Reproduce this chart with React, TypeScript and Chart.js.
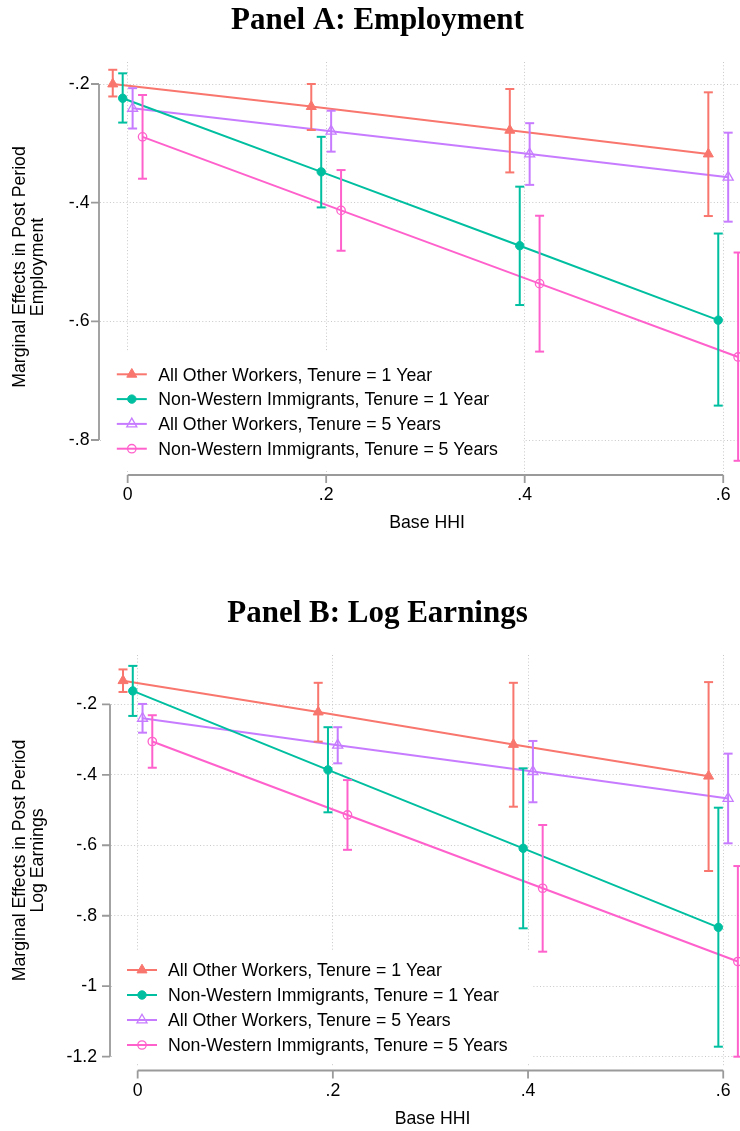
import React, { useEffect, useRef } from "react";
import { Chart, registerables } from "chart.js";

Chart.register(...registerables);

// ---- Series identity ----
const seriesLabels = [
  "All Other Workers, Tenure = 1 Year",
  "Non-Western Immigrants, Tenure = 1 Year",
  "All Other Workers, Tenure = 5 Years",
  "Non-Western Immigrants, Tenure = 5 Years",
];
const seriesColors = ["#F8766D", "#00BFA0", "#C77CFF", "#FF61CC"];

// ---- Base HHI positions (dodged per series) ----
const xAllOther1 = [-0.015, 0.185, 0.385, 0.585];
const xImmig1 = [-0.005, 0.195, 0.395, 0.595];
const xAllOther5 = [0.005, 0.205, 0.405, 0.605];
const xImmig5 = [0.015, 0.215, 0.415, 0.615];

// ---- Tick values ----
const xTicks = [0, 0.2, 0.4, 0.6];
const empTicks = [-0.8, -0.6, -0.4, -0.2];
const earnTicks = [-1.2, -1, -0.8, -0.6, -0.4, -0.2];

// ---- Panel A: Employment (estimate, lower CI, upper CI) ----
const empAllOther1 = [-0.2, -0.238, -0.278, -0.318];
const empAllOther1Lo = [-0.221, -0.2775, -0.349, -0.4225];
const empAllOther1Hi = [-0.176, -0.2, -0.2084, -0.214];

const empImmig1 = [-0.224, -0.348, -0.4725, -0.598];
const empImmig1Lo = [-0.265, -0.408, -0.5725, -0.742];
const empImmig1Hi = [-0.182, -0.289, -0.373, -0.452];

const empAllOther5 = [-0.241, -0.2795, -0.318, -0.357];
const empAllOther5Lo = [-0.275, -0.314, -0.37, -0.432];
const empAllOther5Hi = [-0.207, -0.245, -0.266, -0.282];

const empImmig5 = [-0.289, -0.413, -0.5365, -0.66];
const empImmig5Lo = [-0.3596, -0.481, -0.651, -0.835];
const empImmig5Hi = [-0.2185, -0.345, -0.422, -0.484];

// ---- Panel B: Log Earnings (estimate, lower CI, upper CI) ----
const earnAllOther1 = [-0.133, -0.222, -0.314, -0.404];
const earnAllOther1Lo = [-0.165, -0.306, -0.4906, -0.673];
const earnAllOther1Hi = [-0.101, -0.139, -0.139, -0.137];

const earnImmig1 = [-0.162, -0.386, -0.6087, -0.833];
const earnImmig1Lo = [-0.233, -0.5065, -0.8357, -1.1716];
const earnImmig1Hi = [-0.091, -0.265, -0.3817, -0.4934];

const earnAllOther5 = [-0.2398, -0.316, -0.391, -0.467];
const earnAllOther5Lo = [-0.2805, -0.3675, -0.478, -0.5945];
const earnAllOther5Hi = [-0.199, -0.265, -0.304, -0.34];

const earnImmig5 = [-0.3055, -0.514, -0.722, -0.93];
const earnImmig5Lo = [-0.38, -0.613, -0.902, -1.2];
const earnImmig5Hi = [-0.231, -0.415, -0.5425, -0.659];

// ---- Styling ----
const SANS = "'Liberation Sans', Arial, Helvetica, sans-serif";
const SERIF = "'Liberation Serif', 'Times New Roman', Times, serif";
const TEXT_SIZE = 17.7;
const AXIS_COLOR = "#9a9a9a";
const GRID_COLOR = "#c8c8c8";

type MarkerSpec = { style: "triangle" | "circle"; filled: boolean; r: number };
const markerSpecs: MarkerSpec[] = [
  { style: "triangle", filled: true, r: 5.8 },
  { style: "circle", filled: true, r: 4.2 },
  { style: "triangle", filled: false, r: 5.8 },
  { style: "circle", filled: false, r: 4.2 },
];

type Series = { x: number[]; y: number[]; lo: number[]; hi: number[] };

type PanelSpec = {
  title: string;
  yTitle: string[];
  canvasHeight: number;
  padTop: number;
  yAxisWidth: number;
  xAxisHeight: number;
  xMin: number;
  xMax: number;
  yMin: number;
  yMax: number;
  yTicks: number[];
  series: Series[];
  titleBaseline: number;
  axisGap: number;
  yLabelPad: number;
  xLabelPad: number;
  xTitleBaseline: number;
  legend: { top: number; right: number; row0: number; step: number; markerX: number; textX: number };
};

const fmtTick = (v: number) => {
  const s = String(Math.round(v * 10) / 10);
  return s.replace(/^(-?)0\./, "$1.");
};

function drawMarker(ctx: CanvasRenderingContext2D, m: MarkerSpec, x: number, y: number, color: string) {
  ctx.save();
  ctx.beginPath();
  if (m.style === "circle") {
    ctx.arc(x, y, m.r, 0, Math.PI * 2);
  } else {
    for (let k = 0; k < 3; k++) {
      const a = (k * 2 * Math.PI) / 3;
      const px = x + Math.sin(a) * m.r;
      const py = y - Math.cos(a) * m.r;
      if (k === 0) ctx.moveTo(px, py);
      else ctx.lineTo(px, py);
    }
    ctx.closePath();
  }
  if (m.filled) {
    ctx.fillStyle = color;
    ctx.fill();
  }
  ctx.strokeStyle = color;
  ctx.lineWidth = m.filled ? 1 : 1.3;
  ctx.stroke();
  ctx.restore();
}

function decorPlugin(spec: PanelSpec) {
  return {
    id: "panelDecor",
    afterDatasetsDraw(chart: any) {
      const ctx: CanvasRenderingContext2D = chart.ctx;
      const area = chart.chartArea;
      const L = spec.legend;
      ctx.save();
      ctx.fillStyle = "#ffffff";
      ctx.fillRect(area.left + 1, L.top, L.right - area.left - 1, area.bottom - 3 - L.top);
      seriesLabels.forEach((label, i) => {
        const y = L.row0 + i * L.step;
        ctx.strokeStyle = seriesColors[i];
        ctx.lineWidth = 2;
        ctx.beginPath();
        ctx.moveTo(L.markerX - 15, y);
        ctx.lineTo(L.markerX + 15, y);
        ctx.stroke();
        drawMarker(ctx, markerSpecs[i], L.markerX, y, seriesColors[i]);
        ctx.fillStyle = "#000";
        ctx.font = `${TEXT_SIZE}px ${SANS}`;
        ctx.textAlign = "left";
        ctx.textBaseline = "alphabetic";
        ctx.fillText(label, L.textX, y + 6.3);
      });
      ctx.restore();
    },
    afterDraw(chart: any) {
      const ctx: CanvasRenderingContext2D = chart.ctx;
      const area = chart.chartArea;
      const xs = chart.scales.x;
      const ys = chart.scales.y;
      ctx.save();

      // Panel title
      ctx.fillStyle = "#000";
      ctx.font = `bold 31px ${SERIF}`;
      ctx.textAlign = "center";
      ctx.textBaseline = "alphabetic";
      ctx.fillText(spec.title, 377.5, spec.titleBaseline);

      // Axis lines spanning the tick range, with outward tick marks
      ctx.strokeStyle = AXIS_COLOR;
      ctx.lineWidth = 1.8;
      ctx.lineCap = "butt";
      const ax = area.left - 1;
      const yTop = ys.getPixelForValue(spec.yTicks[spec.yTicks.length - 1]);
      const yBot = ys.getPixelForValue(spec.yTicks[0]);
      ctx.beginPath();
      ctx.moveTo(ax, yTop);
      ctx.lineTo(ax, yBot);
      spec.yTicks.forEach((v) => {
        const p = ys.getPixelForValue(v);
        ctx.moveTo(ax, p);
        ctx.lineTo(ax - 8, p);
      });
      const ay = area.bottom + spec.axisGap;
      const xl = xs.getPixelForValue(xTicks[0]);
      const xr = xs.getPixelForValue(xTicks[xTicks.length - 1]);
      ctx.moveTo(xl, ay);
      ctx.lineTo(xr, ay);
      xTicks.forEach((v) => {
        const p = xs.getPixelForValue(v);
        ctx.moveTo(p, ay);
        ctx.lineTo(p, ay + 8);
      });
      ctx.stroke();

      // Axis titles
      ctx.fillStyle = "#000";
      ctx.font = `${TEXT_SIZE}px ${SANS}`;
      ctx.textAlign = "center";
      ctx.textBaseline = "middle";
      const cy = (area.top + area.bottom) / 2;
      const lineX = [20, 38.5];
      spec.yTitle.forEach((t, i) => {
        ctx.save();
        ctx.translate(lineX[i], cy);
        ctx.rotate(-Math.PI / 2);
        ctx.fillText(t, 0, 0);
        ctx.restore();
      });
      ctx.textBaseline = "alphabetic";
      ctx.fillText("Base HHI", (area.left + 754) / 2, spec.xTitleBaseline);
      ctx.restore();
    },
  };
}

function ciPoints(xs: number[], lo: number[], hi: number[]) {
  const pts: { x: number; y: number | null }[] = [];
  xs.forEach((x, i) => {
    pts.push({ x, y: lo[i] }, { x, y: hi[i] }, { x, y: null });
  });
  return pts;
}

function buildConfig(spec: PanelSpec): any {
  const lineSets = spec.series.map((s, i) => ({
    label: seriesLabels[i],
    data: s.x.map((x, k) => ({ x, y: s.y[k] })),
    showLine: true,
    borderColor: seriesColors[i],
    borderWidth: 2,
    pointStyle: markerSpecs[i].style,
    pointRadius: markerSpecs[i].r,
    pointHoverRadius: markerSpecs[i].r,
    pointBackgroundColor: markerSpecs[i].filled ? seriesColors[i] : "rgba(0,0,0,0)",
    pointBorderColor: seriesColors[i],
    pointBorderWidth: markerSpecs[i].filled ? 1 : 1.3,
    order: 1,
  }));
  const ciSets = spec.series.map((s, i) => ({
    label: seriesLabels[i] + " CI",
    data: ciPoints(s.x, s.lo, s.hi),
    showLine: true,
    spanGaps: false,
    borderColor: seriesColors[i],
    borderWidth: 2,
    pointStyle: "line",
    pointRadius: 4.5,
    pointHoverRadius: 4.5,
    pointBorderColor: seriesColors[i],
    pointBorderWidth: 2,
    order: 0,
  }));

  return {
    type: "scatter",
    data: { datasets: [...lineSets, ...ciSets] },
    options: {
      animation: false,
      responsive: false,
      devicePixelRatio: 1,
      events: [],
      layout: { padding: { top: spec.padTop, right: 6, left: 0, bottom: 0 } },
      plugins: { legend: { display: false }, tooltip: { enabled: false }, title: { display: false } },
      scales: {
        x: {
          type: "linear",
          min: spec.xMin,
          max: spec.xMax,
          afterBuildTicks: (s: any) => {
            s.ticks = xTicks.map((v) => ({ value: v }));
          },
          afterFit: (s: any) => {
            s.height = spec.xAxisHeight;
          },
          grid: { color: GRID_COLOR, lineWidth: 1, drawTicks: false },
          border: { display: false, dash: [1, 2.3] },
          ticks: {
            padding: spec.xLabelPad,
            color: "#000",
            font: { family: SANS, size: TEXT_SIZE },
            maxRotation: 0,
            autoSkip: false,
            callback: (v: number) => fmtTick(v),
          },
        },
        y: {
          type: "linear",
          min: spec.yMin,
          max: spec.yMax,
          afterBuildTicks: (s: any) => {
            s.ticks = spec.yTicks.map((v) => ({ value: v }));
          },
          afterFit: (s: any) => {
            s.width = spec.yAxisWidth;
          },
          grid: { color: GRID_COLOR, lineWidth: 1, drawTicks: false },
          border: { display: false, dash: [1, 2.3] },
          ticks: {
            padding: spec.yLabelPad,
            color: "#000",
            font: { family: SANS, size: TEXT_SIZE },
            autoSkip: false,
            callback: (v: number) => fmtTick(v),
          },
        },
      },
    },
    plugins: [decorPlugin(spec)],
  };
}

const panelA: PanelSpec = {
  title: "Panel A: Employment",
  yTitle: ["Marginal Effects in Post Period", "Employment"],
  canvasHeight: 560,
  padTop: 62,
  yAxisWidth: 100,
  xAxisHeight: 88,
  xMin: -0.02786,
  xMax: 0.6299,
  yMin: -0.8539,
  yMax: -0.1629,
  yTicks: empTicks,
  series: [
    { x: xAllOther1, y: empAllOther1, lo: empAllOther1Lo, hi: empAllOther1Hi },
    { x: xImmig1, y: empImmig1, lo: empImmig1Lo, hi: empImmig1Hi },
    { x: xAllOther5, y: empAllOther5, lo: empAllOther5Lo, hi: empAllOther5Hi },
    { x: xImmig5, y: empImmig5, lo: empImmig5Lo, hi: empImmig5Hi },
  ],
  titleBaseline: 29,
  axisGap: 3,
  yLabelPad: 10.5,
  xLabelPad: 12,
  xTitleBaseline: 528,
  legend: { top: 352, right: 523, row0: 374.3, step: 24.8, markerX: 131.8, textX: 158.3 },
};

const panelB: PanelSpec = {
  title: "Panel B: Log Earnings",
  yTitle: ["Marginal Effects in Post Period", "Log Earnings"],
  canvasHeight: 551,
  padTop: 75,
  yAxisWidth: 111,
  xAxisHeight: 65,
  xMin: -0.02731,
  xMax: 0.6304,
  yMin: -1.2264,
  yMax: -0.0601,
  yTicks: earnTicks,
  series: [
    { x: xAllOther1, y: earnAllOther1, lo: earnAllOther1Lo, hi: earnAllOther1Hi },
    { x: xImmig1, y: earnImmig1, lo: earnImmig1Lo, hi: earnImmig1Hi },
    { x: xAllOther5, y: earnAllOther5, lo: earnAllOther5Lo, hi: earnAllOther5Hi },
    { x: xImmig5, y: earnImmig5, lo: earnImmig5Lo, hi: earnImmig5Hi },
  ],
  titleBaseline: 42,
  axisGap: 4.5,
  yLabelPad: 14,
  xLabelPad: 14,
  xTitleBaseline: 543.7,
  legend: { top: 372, right: 531.7, row0: 390, step: 25, markerX: 142, textX: 168 },
};

function Panel({ spec, top }: { spec: PanelSpec; top: number }) {
  const ref = useRef<HTMLCanvasElement | null>(null);
  useEffect(() => {
    if (!ref.current) return;
    const chart = new Chart(ref.current, buildConfig(spec));
    return () => chart.destroy();
  }, [spec]);
  return (
    <canvas
      ref={ref}
      width={760}
      height={spec.canvasHeight}
      style={{ position: "absolute", left: 0, top, width: 760, height: spec.canvasHeight, display: "block" }}
    />
  );
}

export default function App() {
  return (
    <div
      style={{
        position: "fixed",
        left: 0,
        top: 0,
        width: 740,
        height: 1131,
        overflow: "hidden",
        background: "#ffffff",
      }}
    >
      <Panel spec={panelA} top={0} />
      <Panel spec={panelB} top={580} />
    </div>
  );
}
